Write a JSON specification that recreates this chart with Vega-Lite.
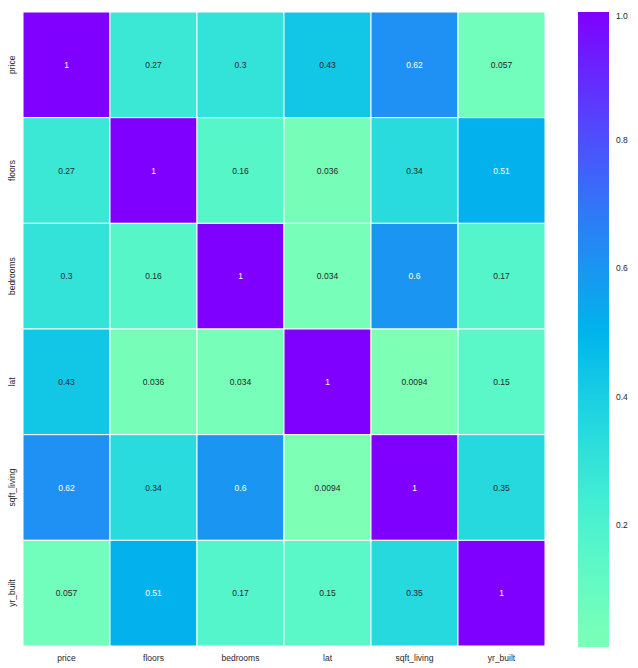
{
  "$schema": "https://vega.github.io/schema/vega-lite/v6.json",
  "width": 522,
  "height": 634,
  "autosize": "none",
  "padding": {"left": 23, "top": 12, "right": 93, "bottom": 22},
  "background": "white",
  "config": {
    "view": {"stroke": null},
    "font": "Liberation Sans",
    "axis": {"domain": false, "ticks": false, "grid": false, "labelFont": "Liberation Sans", "labelFontSize": 8.5, "labelColor": "#262626", "title": null}
  },
  "data": {"values": [
    {"row": "price", "col": "price", "v": 1},
    {"row": "price", "col": "floors", "v": 0.27},
    {"row": "price", "col": "bedrooms", "v": 0.3},
    {"row": "price", "col": "lat", "v": 0.43},
    {"row": "price", "col": "sqft_living", "v": 0.62},
    {"row": "price", "col": "yr_built", "v": 0.057},
    {"row": "floors", "col": "price", "v": 0.27},
    {"row": "floors", "col": "floors", "v": 1},
    {"row": "floors", "col": "bedrooms", "v": 0.16},
    {"row": "floors", "col": "lat", "v": 0.036},
    {"row": "floors", "col": "sqft_living", "v": 0.34},
    {"row": "floors", "col": "yr_built", "v": 0.51},
    {"row": "bedrooms", "col": "price", "v": 0.3},
    {"row": "bedrooms", "col": "floors", "v": 0.16},
    {"row": "bedrooms", "col": "bedrooms", "v": 1},
    {"row": "bedrooms", "col": "lat", "v": 0.034},
    {"row": "bedrooms", "col": "sqft_living", "v": 0.6},
    {"row": "bedrooms", "col": "yr_built", "v": 0.17},
    {"row": "lat", "col": "price", "v": 0.43},
    {"row": "lat", "col": "floors", "v": 0.036},
    {"row": "lat", "col": "bedrooms", "v": 0.034},
    {"row": "lat", "col": "lat", "v": 1},
    {"row": "lat", "col": "sqft_living", "v": 0.0094},
    {"row": "lat", "col": "yr_built", "v": 0.15},
    {"row": "sqft_living", "col": "price", "v": 0.62},
    {"row": "sqft_living", "col": "floors", "v": 0.34},
    {"row": "sqft_living", "col": "bedrooms", "v": 0.6},
    {"row": "sqft_living", "col": "lat", "v": 0.0094},
    {"row": "sqft_living", "col": "sqft_living", "v": 1},
    {"row": "sqft_living", "col": "yr_built", "v": 0.35},
    {"row": "yr_built", "col": "price", "v": 0.057},
    {"row": "yr_built", "col": "floors", "v": 0.51},
    {"row": "yr_built", "col": "bedrooms", "v": 0.17},
    {"row": "yr_built", "col": "lat", "v": 0.15},
    {"row": "yr_built", "col": "sqft_living", "v": 0.35},
    {"row": "yr_built", "col": "yr_built", "v": 1}
  ]},
  "encoding": {
    "x": {"field": "col", "type": "nominal", "sort": ["price", "floors", "bedrooms", "lat", "sqft_living", "yr_built"], "scale": {"paddingInner": 0, "paddingOuter": 0}, "axis": {"labelAngle": 0, "labelPadding": 7}},
    "y": {"field": "row", "type": "nominal", "sort": ["price", "floors", "bedrooms", "lat", "sqft_living", "yr_built"], "scale": {"paddingInner": 0, "paddingOuter": 0}, "axis": {"labelAngle": -90, "labelPadding": 7, "labelAlign": "center", "labelBaseline": "bottom"}}
  },
  "layer": [
    {
      "mark": {"type": "rect", "stroke": "white", "strokeWidth": 1},
      "encoding": {
        "color": {
          "field": "v", "type": "quantitative",
          "scale": {
            "domain": [0.0094, 0.125, 0.25, 0.375, 0.5, 0.625, 0.75, 0.875, 1],
            "range": ["#7dffb6", "#60fac5", "#40ecd4", "#20d4e1", "#00b4ec", "#208ef4", "#4062fa", "#6032fe", "#8000ff"],
            "interpolate": "rgb"
          },
          "legend": {
            "title": null,
            "orient": "right",
            "offset": 33,
            "padding": 0,
            "gradientLength": 635,
            "gradientThickness": 31,
            "gradientStrokeWidth": 0,
            "values": [0.2, 0.4, 0.6, 0.8, 1.0],
            "format": ".1f",
            "labelFont": "Liberation Sans",
            "labelFontSize": 8.5,
            "labelColor": "#262626",
            "labelBaseline": "middle",
            "labelOffset": 7,
            "tickCount": 5
          }
        }
      }
    },
    {
      "mark": {"type": "text", "fontSize": 8.5, "font": "Liberation Sans"},
      "encoding": {
        "text": {"field": "v", "type": "quantitative", "format": ".2~g"},
        "color": {
          "condition": {"test": "datum.v > 0.47", "value": "white"},
          "value": "#262626"
        }
      }
    }
  ]
}
